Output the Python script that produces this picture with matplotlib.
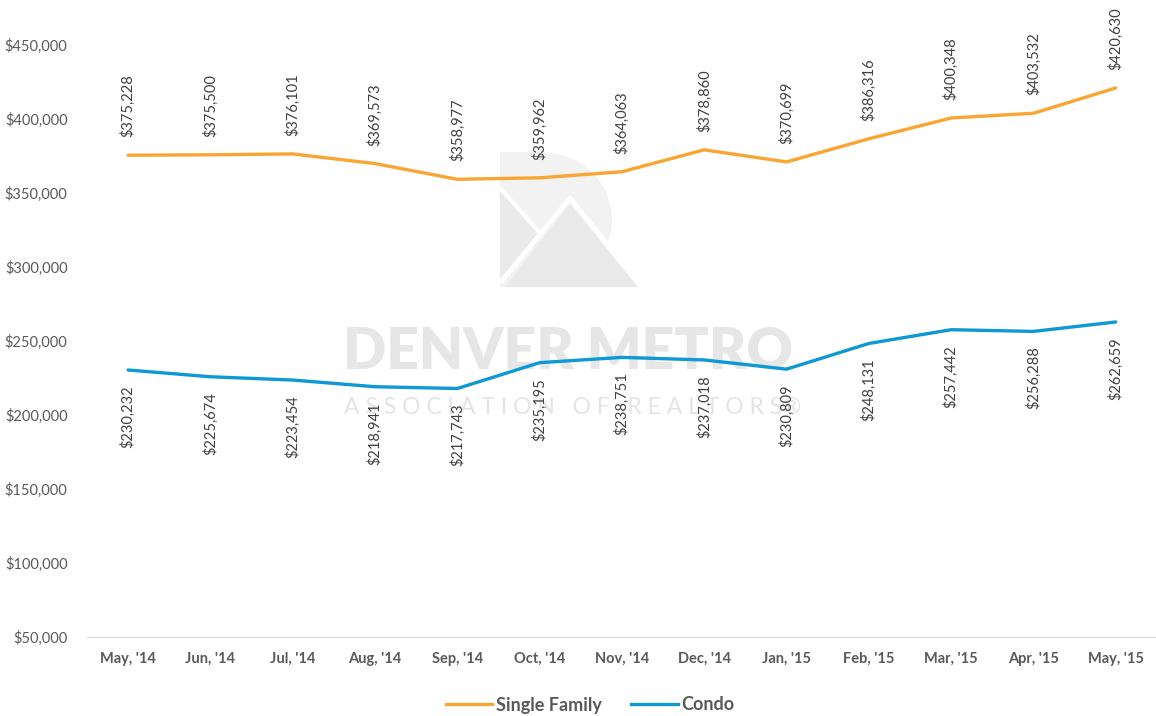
import matplotlib
matplotlib.use('Agg')
import matplotlib.pyplot as plt
from matplotlib.patches import Polygon, Wedge, Rectangle
from matplotlib.lines import Line2D

# median prices, May '14 - May '15
months = ["May, '14", "Jun, '14", "Jul, '14", "Aug, '14", "Sep, '14", "Oct, '14",
          "Nov, '14", "Dec, '14", "Jan, '15", "Feb, '15", "Mar, '15", "Apr, '15",
          "May, '15"]
single_family = [375228, 375500, 376101, 369573, 358977, 359962, 364063,
                 378860, 370699, 386316, 400348, 403532, 420630]
condo = [230232, 225674, 223454, 218941, 217743, 235195, 238751,
         237018, 230809, 248131, 257442, 256288, 262659]
yticks = [50000, 100000, 150000, 200000, 250000, 300000, 350000, 400000, 450000]

orange = '#F9A533'
blue = '#0E98D4'
grey = '#595959'
plt.rcParams['font.family'] = ['Lato', 'DejaVu Sans']

W, H = 1156, 716
fig = plt.figure(figsize=(W / 100, H / 100), dpi=100)

# watermark logo, drawn in pixel coords under the chart
wm = fig.add_axes([0, 0, 1, 1], zorder=0)
wm.set_xlim(0, W)
wm.set_ylim(H, 0)
wm.axis('off')
light = '#F2F2F2'
wm.add_patch(Rectangle((500, 152), 45, 135, color=light, lw=0))
wm.add_patch(Wedge((545, 220), 67, -90, 90, color=light, lw=0))
wm.add_patch(Polygon([(500, 190), (538, 234), (500, 280)], color='#EAEAEA', lw=0))
wm.add_patch(Polygon([(505, 287), (570, 204), (638, 287)], color='#E9E9E9', lw=0))
wm.plot([500, 540], [188, 233], color='white', lw=3, solid_capstyle='butt')
wm.plot([500, 570, 610], [283, 198, 248], color='white', lw=3.5, solid_capstyle='butt')
wm.text(568, 352, 'DENVER METRO', color='#E6E6E6', fontsize=41, fontweight='heavy',
        ha='center', va='center')
wm.text(573, 408, 'A S S O C I A T I O N   O F   R E A L T O R S®', color='#E4E4E4',
        fontsize=16.5, fontweight='normal', ha='center', va='center')

ax = fig.add_axes([87 / W, 1 - 637 / H, 1 - 87 / W + 5 / W, 637 / H], zorder=1)
ax.patch.set_alpha(0)
x = list(range(len(months)))
ax.plot(x, single_family, color=orange, lw=2.4, solid_capstyle='round')
ax.plot(x, condo, color=blue, lw=2.4, solid_capstyle='round')

for i, v in enumerate(single_family):
    ax.annotate('${:,}'.format(v), (i, v), xytext=(0, 13), textcoords='offset points',
                rotation=90, ha='center', va='bottom', fontsize=10.5, color='#404040')
for i, v in enumerate(condo):
    ax.annotate('${:,}'.format(v), (i, v), xytext=(0, -11), textcoords='offset points',
                rotation=90, ha='center', va='top', fontsize=10.5, color='#404040')

ax.set_xlim(-0.5, 12.55)
ax.set_ylim(50000, 480000)
ax.set_xticks(x)
ax.set_xticklabels(months, fontweight='bold')
ax.set_yticks(yticks)
ax.set_yticklabels(['${:,}'.format(t) for t in yticks])
ax.tick_params(axis='both', length=0, colors=grey, labelsize=10.5)
ax.tick_params(axis='y', pad=14)
ax.tick_params(axis='x', pad=11)
for s in ['top', 'right', 'left']:
    ax.spines[s].set_visible(False)
ax.spines['bottom'].set_color('#D9D9D9')

handles = [Line2D([0], [0], color=orange, lw=2.4), Line2D([0], [0], color=blue, lw=2.4)]
fig.legend(handles, ['Single Family', 'Condo'], loc='center', bbox_to_anchor=(590 / W, 1 - 705 / H),
           ncol=2, frameon=False, handlelength=2.6, handletextpad=0.2, columnspacing=1.6,
           prop={'weight': 'bold', 'size': 13}, labelcolor=grey)

fig.savefig('out.png', dpi=100)
